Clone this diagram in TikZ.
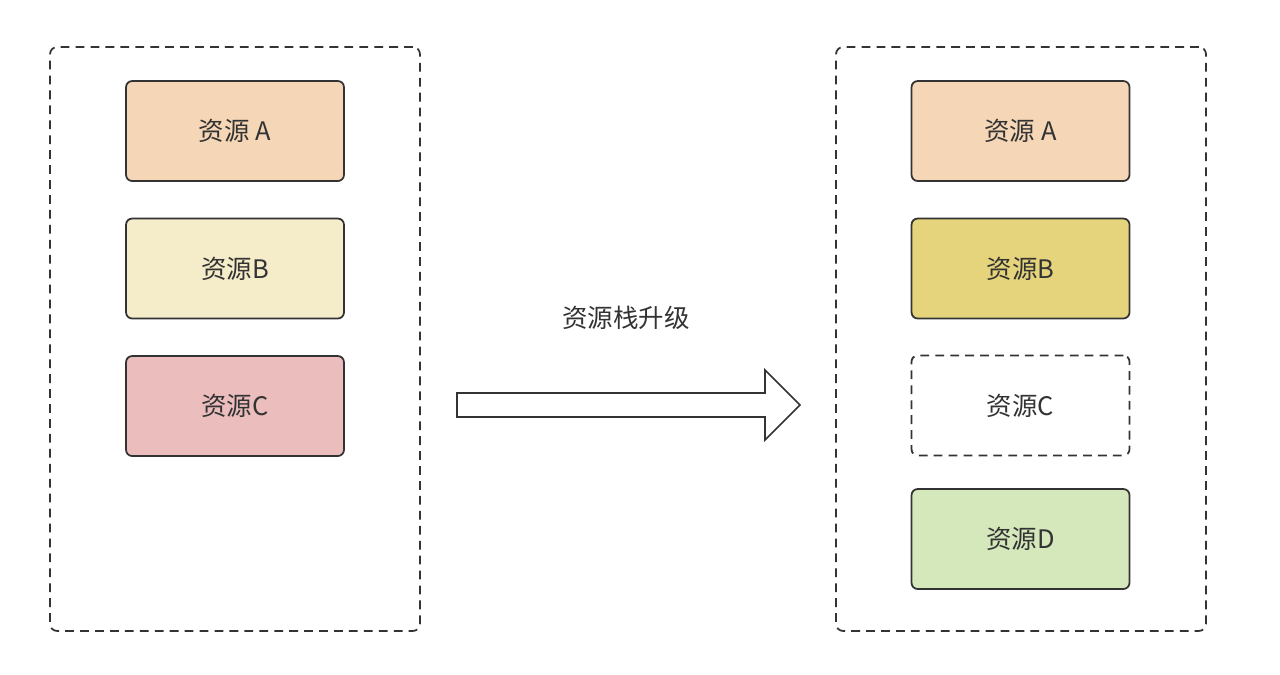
\documentclass[tikz,border=0pt]{standalone}
\usepackage{fontspec}
\newfontfamily\cjk{Noto Sans CJK SC}
\usepackage{tikz}
\usetikzlibrary{positioning,calc}
\usepackage{xcolor}
\definecolor{resA}{HTML}{F5D6B6}
\definecolor{resBold}{HTML}{F5ECC9}
\definecolor{resBnew}{HTML}{E6D47C}
\definecolor{resC}{HTML}{ECBDBD}
\definecolor{resD}{HTML}{D4E8BB}
\definecolor{ink}{HTML}{333333}

\begin{document}
\begin{tikzpicture}[
    x=0.02cm,y=-0.02cm,
    stackbox/.style={rectangle,draw=ink,line width=1pt,dash pattern=on 5pt off 3.5pt,
                     rounded corners=4pt,minimum width=7.4cm,minimum height=11.68cm},
    res/.style={rectangle,draw=ink,line width=1pt,rounded corners=3.5pt,
                minimum width=4.36cm,minimum height=2cm,text=ink},
    font=\cjk\fontsize{14.5}{17}\selectfont
  ]
  \useasboundingbox (0,0) rectangle (1280,674);

  %% Before upgrade
  \node[stackbox] (stackL) at (235,339) {};
  \node[res,fill=resA]    (aL) at (235,131)   {资源 A};
  \node[res,fill=resBold] (bL) at (235,268.5) {资源B};
  \node[res,fill=resC]    (cL) at (235,406)   {资源C};

  %% After upgrade
  \node[stackbox] (stackR) at (1021,339) {};
  \node[res,fill=resA]    (aR) at (1020.5,131)   {资源 A};
  \node[res,fill=resBnew] (bR) at (1020.5,268.5) {资源B};
  \node[res,dash pattern=on 5pt off 3.5pt] (cR) at (1020.5,405.5) {资源C};
  \node[res,fill=resD]    (dR) at (1020.5,539)   {资源D};

  %% upgrade arrow
  \coordinate (tail) at (457,405);
  \coordinate (tip)  at (800,405);
  \draw[draw=ink,line width=0.9pt,fill=white,line join=miter]
    ($(tail)+(0,-12)$) -- ($(tip)+(-35,-12)$) -- ($(tip)+(-35,-35)$) -- (tip)
    -- ($(tip)+(-35,35)$) -- ($(tip)+(-35,12)$) -- ($(tail)+(0,12)$) -- cycle;
  \node[text=ink] (upg) at (626,318) {资源栈升级};
\end{tikzpicture}
\end{document}
